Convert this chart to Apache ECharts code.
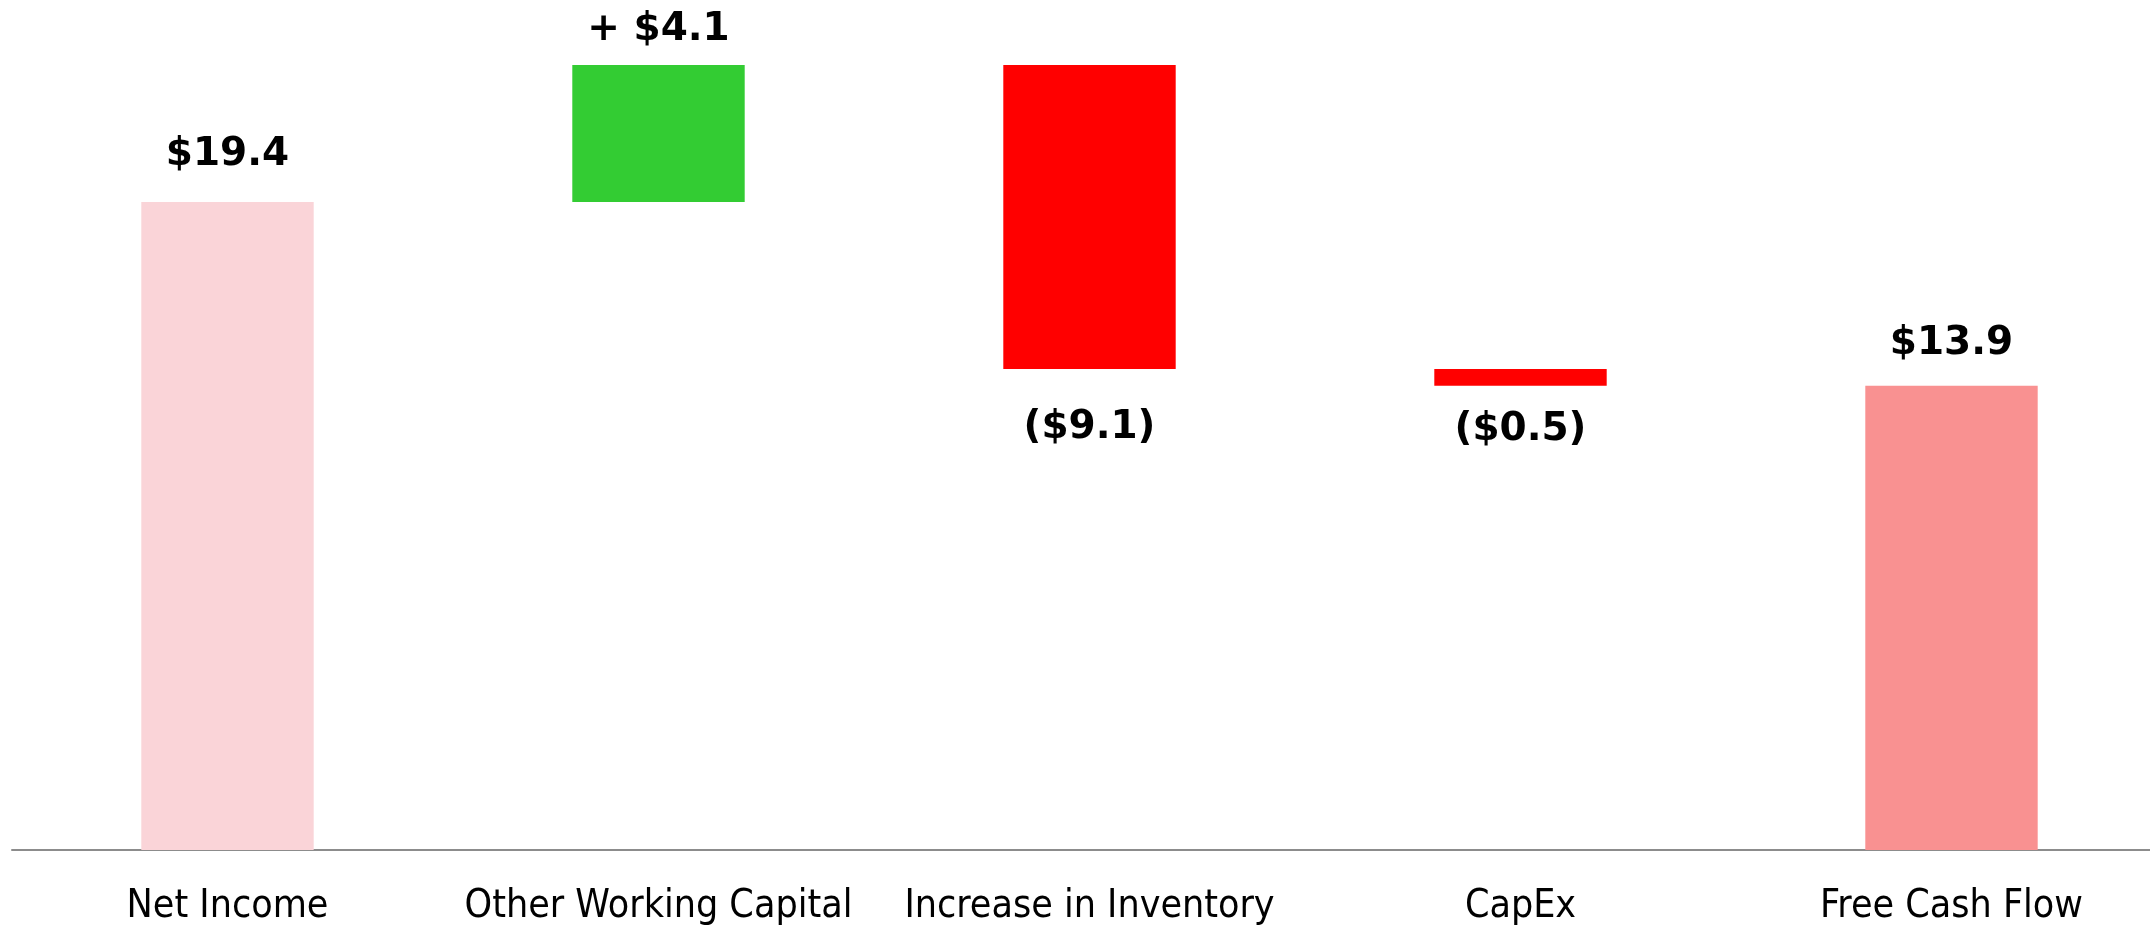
<!DOCTYPE html>
<html>
<head>
<meta charset="utf-8">
<script src="https://cdn.jsdelivr.net/npm/echarts@6/dist/echarts.min.js"></script>
<style>html,body{margin:0;padding:0;background:#fff}#c{width:2150px;height:928px}</style>
</head>
<body>
<div id="c"></div>
<script>
const categories = ['Net Income', 'Other Working Capital', 'Increase in Inventory', 'CapEx', 'Free Cash Flow'];
const values = [19.4, 4.1, -9.1, -0.5, 13.9];
const isTotal = [true, false, false, false, true];
const valueLabels = ['$19.4', '+ $4.1', '($9.1)', '($0.5)', '$13.9'];

const colors = ['#FAD4D8', '#33CC33', '#FF0000', '#FF0000', '#F99191'];
const labelDist = [28, 16, 39, 25, 22];

// build waterfall from values
const base = [], height = [];
let run = 0;
values.forEach((v, i) => {
  if (isTotal[i]) { base.push(0); height.push(Math.abs(v)); run = v; }
  else if (v >= 0) { base.push(run); height.push(v); run += v; }
  else { run += v; base.push(run); height.push(-v); }
});

const chart = echarts.init(document.getElementById('c'), null, {renderer: 'canvas'});
chart.setOption({
  animation: false,
  grid: {left: 12, top: 15, width: 2155, bottom: 78, containLabel: false, outerBoundsMode: 'none'},
  xAxis: {
    type: 'category',
    data: categories,
    axisLine: {lineStyle: {color: '#8c8c8c', width: 2}},
    axisTick: {show: false},
    axisLabel: {
      color: '#000', fontSize: 39, fontFamily: '"DejaVu Sans Condensed", "DejaVu Sans", sans-serif',
      margin: 37, interval: 0
    }
  },
  yAxis: {type: 'value', min: 0, max: 25, show: false, splitLine: {show: false}},
  series: [
    {
      type: 'bar', stack: 'w', data: base, barWidth: '40%',
      itemStyle: {color: 'transparent'}, silent: true
    },
    {
      type: 'bar', stack: 'w', barWidth: '40%',
      data: height.map((h, i) => ({
        value: h,
        itemStyle: {color: colors[i]},
        label: {
          show: true,
          position: values[i] >= 0 ? 'top' : 'bottom',
          distance: labelDist[i],
          formatter: valueLabels[i],
          color: '#000', fontWeight: 'bold', fontSize: 39,
          fontFamily: '"DejaVu Sans", Verdana, sans-serif'
        }
      }))
    }
  ]
});
</script>
</body>
</html>
